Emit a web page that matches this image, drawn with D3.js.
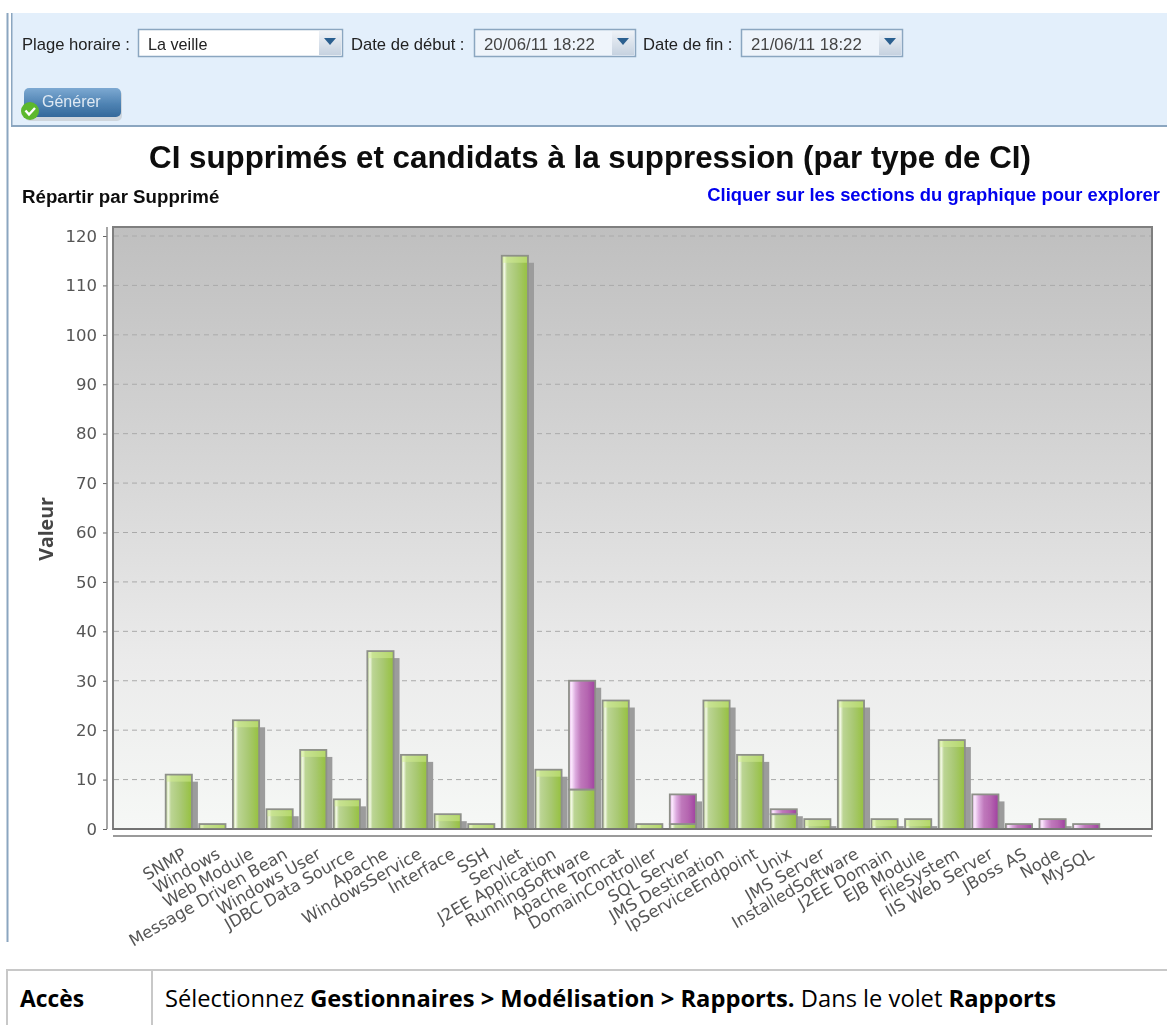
<!DOCTYPE html>
<html>
<head>
<meta charset="utf-8">
<script src="https://cdn.jsdelivr.net/npm/d3@7"></script>
<style>
    html, body { margin: 0; padding: 0; background: white; overflow: hidden; }
    svg { display: block; }
</style>
</head>
<body>
<div id="chart"></div>
<script>
const categories = ['SNMP', 'Windows', 'Web Module', 'Message Driven Bean', 'Windows User', 'JDBC Data Source',
    'Apache', 'WindowsService', 'Interface', 'SSH', 'Servlet', 'J2EE Application', 'RunningSoftware',
    'Apache Tomcat', 'DomainController', 'SQL Server', 'JMS Destination', 'IpServiceEndpoint', 'Unix',
    'JMS Server', 'InstalledSoftware', 'J2EE Domain', 'EJB Module', 'FileSystem', 'IIS Web Server',
    'JBoss AS', 'Node', 'MySQL']
const supprimes = [11, 1, 22, 4, 16, 6, 36, 15, 3, 1, 116, 12, 8, 26, 1, 1, 26, 15, 3, 2, 26, 2, 2, 18, 0, 0, 0, 0]
const candidats = [0, 0, 0, 0, 0, 0, 0, 0, 0, 0, 0, 0, 22, 0, 0, 6, 0, 0, 1, 0, 0, 0, 0, 0, 7, 1, 2, 1]
const yTicks = [0, 10, 20, 30, 40, 50, 60, 70, 80, 90, 100, 110, 120]

const rows = categories.map((c, i) => ({ category: c, supprime: supprimes[i], candidat: candidats[i] }))

let svg = d3.select('#chart').append('svg')
    .attr('width', 1167)
    .attr('height', 1025)
    .style('font-family', 'Liberation Sans')

let defs = svg.append('defs')

defs.append('filter').attr('id', 'soft')
    .attr('x', '-5%').attr('y', '-5%').attr('width', '110%').attr('height', '110%')
    .append('feGaussianBlur').attr('stdDeviation', 0.4)

function addGradient (id, stops, vertical) {
    let g = defs.append('linearGradient')
        .attr('id', id)
        .attr('x1', 0).attr('y1', 0)
        .attr('x2', vertical ? 0 : 1).attr('y2', vertical ? 1 : 0)
    stops.forEach(s => g.append('stop').attr('offset', s[0]).attr('stop-color', s[1]))
}

addGradient('plotBg', [[0, '#bfbfbf'], [0.4, '#d6d6d6'], [0.72, '#ebebeb'], [1, '#f6f8f6']], true)
addGradient('green', [[0, '#bcd493'], [0.1, '#f2f8e4'], [0.2, '#bcd595'], [0.6, '#a8c871'], [1, '#96c13f']], false)
addGradient('purple', [[0, '#e8c0ea'], [0.1, '#fbe6fd'], [0.25, '#dcaade'], [0.45, '#bf78bb'], [0.7, '#b566b0'], [1, '#a040a0']], false)
addGradient('button', [[0, '#7da9d2'], [0.55, '#4f83b3'], [1, '#34699b']], true)
addGradient('arrowBtn', [[0, '#eef2f7'], [1, '#c6d2e0']], true)

let x = d3.scaleBand()
    .domain(categories)
    .range([162, 1103])
    .paddingInner(0.22)
    .paddingOuter(0.11)

let y = d3.scaleLinear()
    .domain([0, 120])
    .range([829, 236])

// top form panel
let form = svg.append('g').attr('filter', 'url(#soft)')

form.append('rect').attr('x', 11).attr('y', 13).attr('width', 1156).attr('height', 113).attr('fill', '#e3effb')
form.append('rect').attr('x', 11).attr('y', 125).attr('width', 1156).attr('height', 2).attr('fill', '#8ba6c0')
form.append('rect').attr('x', 11).attr('y', 13).attr('width', 1.5).attr('height', 113).attr('fill', '#8ba6c0')
form.append('rect').attr('x', 6.5).attr('y', 13).attr('width', 2).attr('height', 929).attr('fill', '#8ba6c0')

const formLabels = [['Plage horaire :', 22], ['Date de début :', 351], ['Date de fin :', 643]]
form.selectAll('.form-label')
    .data(formLabels)
    .join('text')
    .attr('class', 'form-label')
    .attr('x', d => d[1])
    .attr('y', 50)
    .text(d => d[0])
    .style('font-size', '16.6px')
    .style('fill', '#222')

const combos = [
    { x: 138, w: 204, label: 'La veille', size: 16.2, color: '#222', fill: 'white' },
    { x: 474, w: 161, label: '20/06/11 18:22', size: 16.8, color: '#444', fill: '#eef4fb' },
    { x: 741, w: 161, label: '21/06/11 18:22', size: 16.8, color: '#444', fill: '#eef4fb' }
]
combos.forEach(c => {
    form.append('rect')
        .attr('x', c.x + 0.5).attr('y', 29.5)
        .attr('width', c.w).attr('height', 27)
        .attr('fill', c.fill)
        .style('stroke', '#8ba6c0')
        .style('stroke-width', 1.5)
    form.append('rect')
        .attr('x', c.x + c.w - 23).attr('y', 31)
        .attr('width', 22).attr('height', 24)
        .attr('fill', 'url(#arrowBtn)')
    form.append('path')
        .attr('d', `M${c.x + c.w - 18},38 h12 l-6,7 z`)
        .attr('fill', '#2c5f8f')
    form.append('text')
        .attr('x', c.x + 10)
        .attr('y', 50)
        .text(c.label)
        .style('font-size', c.size + 'px')
        .style('fill', c.color)
})

form.append('rect').attr('x', 25).attr('y', 90).attr('width', 97).attr('height', 31).attr('rx', 5).attr('fill', '#cfd6dd')
form.append('rect').attr('x', 24).attr('y', 88).attr('width', 97).attr('height', 29).attr('rx', 5).attr('fill', 'url(#button)')
form.append('text')
    .attr('x', 42).attr('y', 107)
    .text('Générer')
    .style('font-size', '16px')
    .style('fill', '#dfe9f3')
form.append('circle').attr('cx', 30).attr('cy', 111).attr('r', 9).attr('fill', '#5cb82e')
form.append('path')
    .attr('d', 'M25.5,110.5 l3.5,4 l6,-6.5')
    .attr('fill', 'none')
    .style('stroke', 'white')
    .style('stroke-width', 2.4)

// chart
let chart = svg.append('g').attr('filter', 'url(#soft)')

chart.append('text')
    .attr('x', 590).attr('y', 168)
    .text('CI supprimés et candidats à la suppression (par type de CI)')
    .style('font-size', '31.3px')
    .style('font-weight', 'bold')
    .style('text-anchor', 'middle')
    .style('fill', '#0a0a0a')

chart.append('text')
    .attr('x', 22).attr('y', 203)
    .text('Répartir par Supprimé')
    .style('font-size', '18.7px')
    .style('font-weight', 'bold')
    .style('fill', '#111')

chart.append('text')
    .attr('x', 1160).attr('y', 201)
    .text('Cliquer sur les sections du graphique pour explorer')
    .style('font-size', '18.4px')
    .style('font-weight', 'bold')
    .style('text-anchor', 'end')
    .style('fill', '#0000ee')

chart.append('rect')
    .attr('x', 113).attr('y', 227)
    .attr('width', 1039).attr('height', 602)
    .attr('fill', 'url(#plotBg)')
    .style('stroke', '#7f7f7f')
    .style('stroke-width', 2)

chart.append('g')
    .selectAll('line')
    .data(yTicks.filter(d => d > 0))
    .join('line')
    .attr('x1', 114).attr('x2', 1151)
    .attr('y1', d => y(d)).attr('y2', d => y(d))
    .style('stroke', '#aaa')
    .style('stroke-dasharray', '5 4')

let stacked = d3.stack().keys(['supprime', 'candidat'])(rows)
const fills = { supprime: 'url(#green)', candidat: 'url(#purple)' }
const topOf = d => d.supprime + d.candidat

// shadows go under all the bars
chart.append('g')
    .selectAll('rect')
    .data(rows)
    .join('rect')
    .attr('x', d => x(d.category) + 6)
    .attr('y', d => Math.min(y(topOf(d)) + 7, y(0)))
    .attr('width', x.bandwidth())
    .attr('height', d => Math.max(y(0) - y(topOf(d)) - 7, 0))
    .attr('fill', '#9c9c9c')

stacked.forEach(series => {
    chart.append('g')
        .selectAll('rect')
        .data(series.filter(d => d[1] > d[0]))
        .join('rect')
        .attr('x', d => x(d.data.category))
        .attr('y', d => y(d[1]))
        .attr('width', x.bandwidth())
        .attr('height', d => y(d[0]) - y(d[1]))
        .attr('fill', fills[series.key])
        .style('stroke', '#8e9089')
        .style('stroke-width', 1.8)
})

// light band on the top of every green stack
chart.append('g')
    .selectAll('rect')
    .data(rows.filter(d => d.candidat == 0))
    .join('rect')
    .attr('x', d => x(d.category) + 1)
    .attr('y', d => y(topOf(d)) + 1)
    .attr('width', x.bandwidth() - 2)
    .attr('height', d => Math.min(6, y(0) - y(topOf(d)) - 1))
    .attr('fill', '#d4f08f')
    .attr('opacity', 0.5)

// baseline with the offset floor line below it
chart.append('rect').attr('x', 113).attr('y', 835).attr('width', 1039).attr('height', 2).attr('fill', '#9a9a9a')
chart.append('line')
    .attr('x1', 113).attr('x2', 1152).attr('y1', 829).attr('y2', 829)
    .style('stroke', '#6f6f6f')
    .style('stroke-width', 1.5)

// the axis stands a little off the plot frame
let yAxis = chart.append('g')
    .attr('transform', 'translate(107, 0)')
    .call(d3.axisLeft(y).tickValues(yTicks).tickSize(4).tickPadding(6))
yAxis.select('.domain').remove()
yAxis.selectAll('line').style('stroke', '#666')
yAxis.selectAll('text')
    .style('font-family', 'DejaVu Sans')
    .style('font-size', '16.5px')
    .style('fill', '#555')
chart.append('line')
    .attr('x1', 107).attr('x2', 107).attr('y1', 227).attr('y2', 829)
    .style('stroke', '#888')
    .style('stroke-width', 1.5)

chart.append('text')
    .attr('transform', 'translate(53, 529) rotate(-90)')
    .text('Valeur')
    .style('font-family', 'Open Sans')
    .style('font-size', '19.5px')
    .style('font-weight', 'bold')
    .style('text-anchor', 'middle')
    .style('fill', '#444')

let xAxis = chart.append('g')
    .attr('transform', 'translate(0, 829)')
    .call(d3.axisBottom(x).tickSize(0))
xAxis.select('.domain').remove()
xAxis.selectAll('text')
    .attr('transform', 'translate(3, 18) rotate(-30)')
    .attr('y', 0)
    .attr('dy', '0.71em')
    .style('text-anchor', 'end')
    .style('font-family', 'DejaVu Sans')
    .style('font-size', '16.5px')
    .style('fill', '#555')

// table row under the picture
svg.append('line').attr('x1', 6).attr('x2', 1167).attr('y1', 970).attr('y2', 970).style('stroke', '#c8c8c8').style('stroke-width', 2)
svg.append('line').attr('x1', 7).attr('x2', 7).attr('y1', 970).attr('y2', 1025).style('stroke', '#c8c8c8').style('stroke-width', 2)
svg.append('line').attr('x1', 152).attr('x2', 152).attr('y1', 970).attr('y2', 1025).style('stroke', '#c8c8c8').style('stroke-width', 2)

svg.append('text')
    .attr('x', 20).attr('y', 1007)
    .text('Accès')
    .style('font-family', 'Open Sans')
    .style('font-size', '22.8px')
    .style('font-weight', 'bold')

let line = svg.append('text')
    .attr('x', 165).attr('y', 1007)
    .style('font-family', 'Open Sans')
    .style('font-size', '23.7px')

const rowParts = [['Sélectionnez ', 'normal'], ['Gestionnaires > Modélisation > Rapports.', 'bold'], [' Dans le volet ', 'normal'], ['Rapports', 'bold']]
rowParts.forEach(p => {
    line.append('tspan').text(p[0]).style('font-weight', p[1])
})
</script>
</body>
</html>
